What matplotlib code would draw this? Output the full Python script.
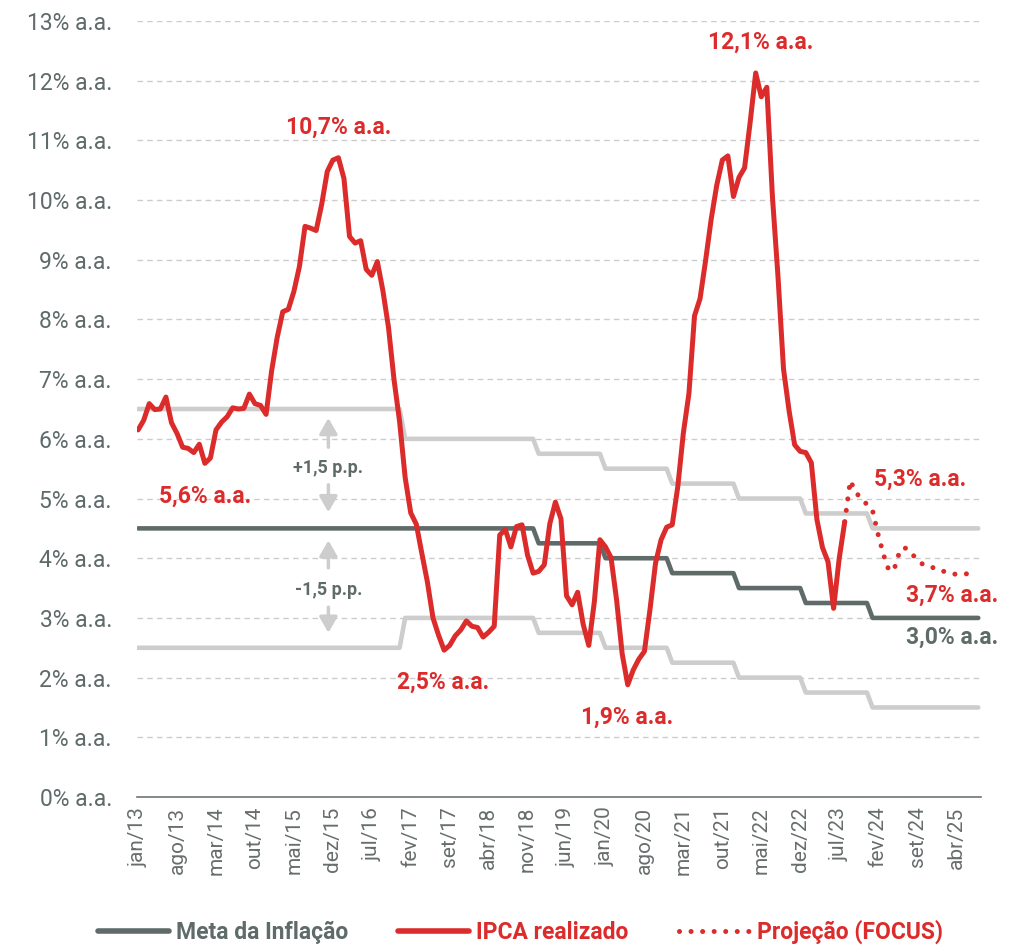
import matplotlib.pyplot as plt
import numpy as np
from matplotlib.lines import Line2D

plt.rcParams['font.family'] = ['Roboto', 'DejaVu Sans']

VERMELHO = '#dc2b2b'
CINZA_ESC = '#5e6b69'
CINZA_CLARO = '#cdcdcd'
CINZA_TXT = '#5f6a6a'

meses = ['jan', 'fev', 'mar', 'abr', 'mai', 'jun', 'jul', 'ago', 'set', 'out', 'nov', 'dez']

# IPCA acumulado em 12 meses (jan/13 a ago/23)
ipca = [
    6.15, 6.31, 6.59, 6.49, 6.50, 6.70, 6.27, 6.09, 5.86, 5.84, 5.77, 5.91,  # 2013
    5.59, 5.68, 6.15, 6.28, 6.37, 6.52, 6.50, 6.51, 6.75, 6.59, 6.56, 6.41,  # 2014
    7.14, 7.70, 8.13, 8.17, 8.47, 8.89, 9.56, 9.53, 9.49, 9.93, 10.48, 10.67,  # 2015
    10.71, 10.36, 9.39, 9.28, 9.32, 8.84, 8.74, 8.97, 8.48, 7.87, 6.99, 6.29,  # 2016
    5.35, 4.76, 4.57, 4.08, 3.60, 3.00, 2.71, 2.46, 2.54, 2.70, 2.80, 2.95,  # 2017
    2.86, 2.84, 2.68, 2.76, 2.86, 4.39, 4.48, 4.19, 4.53, 4.56, 4.05, 3.75,  # 2018
    3.78, 3.89, 4.58, 4.94, 4.66, 3.37, 3.22, 3.43, 2.89, 2.54, 3.27, 4.31,  # 2019
    4.19, 4.01, 3.30, 2.40, 1.88, 2.13, 2.31, 2.44, 3.14, 3.92, 4.31, 4.52,  # 2020
    4.56, 5.20, 6.10, 6.76, 8.06, 8.35, 8.99, 9.68, 10.25, 10.67, 10.74, 10.06,  # 2021
    10.38, 10.54, 11.30, 12.13, 11.73, 11.89, 10.07, 8.73, 7.17, 6.47, 5.90, 5.79,  # 2022
    5.77, 5.60, 4.65, 4.18, 3.94, 3.16, 3.99, 4.61,  # 2023
]

# Projeção Focus (ago/23 a jul/25)
focus = [4.61, 5.30, 5.10, 5.00, 4.90, 4.80, 4.40, 4.05, 3.78, 3.85, 4.15, 4.17,
         4.08, 3.98, 3.90, 3.86, 3.84, 3.82, 3.77, 3.75, 3.73, 3.73, 3.74, 3.75]

# meta e intervalo de tolerância por ano (2013 a 2025)
meta_anual = [4.5, 4.5, 4.5, 4.5, 4.5, 4.5, 4.25, 4.0, 3.75, 3.5, 3.25, 3.0, 3.0]
tolerancia_anual = [2.0, 2.0, 2.0, 2.0, 1.5, 1.5, 1.5, 1.5, 1.5, 1.5, 1.5, 1.5, 1.5]
n_meta = 152  # jan/13 a ago/25

meta = np.repeat(meta_anual, 12)[:n_meta]
tol = np.repeat(tolerancia_anual, 12)[:n_meta]
x_meta = np.arange(n_meta)
x_ipca = np.arange(len(ipca))
x_focus = np.arange(len(ipca) - 1, len(ipca) - 1 + len(focus))

fig = plt.figure(figsize=(10.2, 9.47), dpi=100)
ax = fig.add_axes([0.1343, 0.1584, 0.8275, 0.8194])

ax.plot(x_meta, meta + tol, color=CINZA_CLARO, lw=3.3, solid_capstyle='round', zorder=2)
ax.plot(x_meta, meta - tol, color=CINZA_CLARO, lw=3.3, solid_capstyle='round', zorder=2)
ax.plot(x_meta, meta, color=CINZA_ESC, lw=3.3, solid_capstyle='round', zorder=3)
ax.plot(x_ipca, ipca, color=VERMELHO, lw=3.6, solid_capstyle='round',
        solid_joinstyle='round', zorder=5)
ax.plot(x_focus, focus, color=VERMELHO, lw=3.6, linestyle=(0, (0.01, 2.3)),
        dash_capstyle='round', zorder=4)

# rótulos
rotulos = [
    ('12,1% a.a.', 111.9, 12.65, VERMELHO),
    ('10,7% a.a.', 36.0, 11.22, VERMELHO),
    ('5,6% a.a.', 12.0, 5.03, VERMELHO),
    ('2,5% a.a.', 54.9, 1.93, VERMELHO),
    ('1,9% a.a.', 87.9, 1.34, VERMELHO),
    ('5,3% a.a.', 140.6, 5.33, VERMELHO),
    ('3,7% a.a.', 146.3, 3.38, VERMELHO),
    ('3,0% a.a.', 146.3, 2.68, CINZA_ESC),
]
for txt, xx, yy, cor in rotulos:
    ax.text(xx, yy, txt, color=cor, fontsize=16.5, fontweight='bold',
            ha='center', va='center', zorder=6)

# setas de tolerância
seta = dict(arrowstyle='-|>,head_width=0.36,head_length=0.63', color=CINZA_CLARO,
            lw=2.5, shrinkA=0, shrinkB=0, mutation_scale=15)
x_seta = 34.2
for texto, y_txt, (t1, s1, s2, t2) in [('+1,5 p.p.', 5.51, (6.35, 5.86, 5.23, 4.77)),
                                       ('-1,5 p.p.', 3.47, (4.30, 3.84, 3.18, 2.75))]:
    ax.annotate('', xy=(x_seta, t1), xytext=(x_seta, s1), arrowprops=seta)
    ax.annotate('', xy=(x_seta, t2), xytext=(x_seta, s2), arrowprops=seta)
    ax.text(x_seta, y_txt, texto, color=CINZA_ESC, fontsize=13, fontweight='bold',
            ha='center', va='center')

# eixos
ax.set_xlim(-0.2, 151.5)
ax.set_ylim(0, 13)
ax.set_yticks(range(0, 14))
ax.set_yticklabels([f'{v}% a.a.' for v in range(0, 14)], fontsize=16.5, color=CINZA_TXT)
ticks_x = list(range(0, 148, 7))
ax.set_xticks(ticks_x)
ax.set_xticklabels([f'{meses[m % 12]}/{13 + m // 12}' for m in ticks_x],
                   rotation=90, fontsize=15, color='#676d6d')
ax.tick_params(axis='y', length=0, pad=18)
ax.tick_params(axis='x', length=0, pad=7)
for lado in ['top', 'right', 'left']:
    ax.spines[lado].set_visible(False)
ax.spines['bottom'].set_color('#6f7676')
ax.spines['bottom'].set_linewidth(1.2)
ax.grid(axis='y', color='#cccccc', linestyle=(0, (4, 3)), linewidth=1)
ax.set_axisbelow(True)

# legenda
handles = [
    Line2D([], [], color=CINZA_ESC, lw=4, solid_capstyle='round'),
    Line2D([], [], color=VERMELHO, lw=4, solid_capstyle='round'),
    Line2D([], [], color=VERMELHO, lw=3.6, linestyle=(0, (0.01, 2.3)), dash_capstyle='round'),
]
nomes = ['Meta da Inflação', 'IPCA realizado', 'Projeção (FOCUS)']
leg = fig.legend(handles, nomes, loc='center', bbox_to_anchor=(0.51, 0.016), ncol=3,
                 frameon=False, prop=dict(weight='bold', size=16.5), handlelength=3.1,
                 handletextpad=0.3, columnspacing=2.2)
for t, c in zip(leg.get_texts(), [CINZA_ESC, VERMELHO, VERMELHO]):
    t.set_color(c)

plt.savefig('out.png', dpi=100)
